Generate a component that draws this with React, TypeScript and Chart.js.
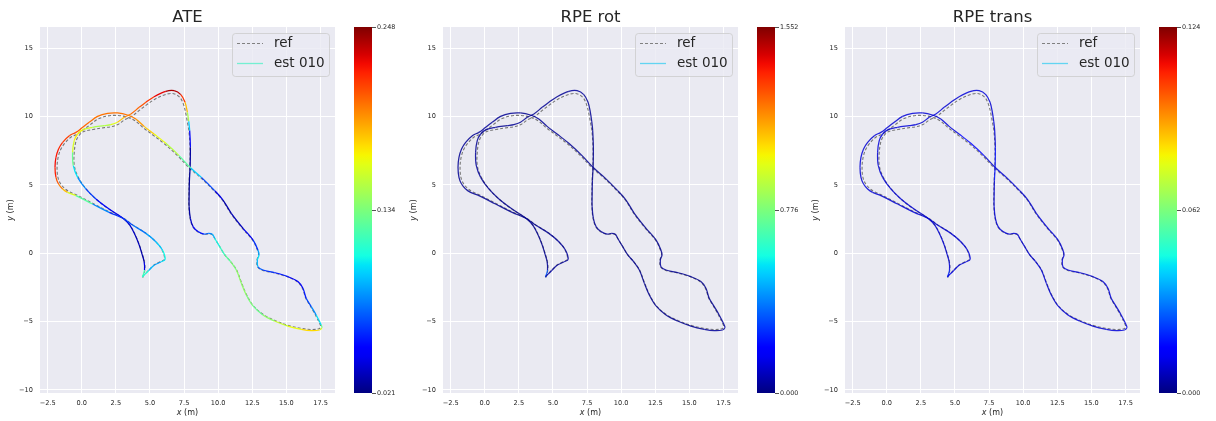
import React, { useEffect, useRef } from 'react';
import { Chart, registerables } from 'chart.js';
Chart.register(...registerables);

// ---------- data ----------
const estX = [4.45, 4.60, 4.57, 4.40, 4.21, 3.91, 3.52, 3.00, 2.01, 1.04,
  0.30, -0.30, -0.62, -0.67, -0.55, -0.30, 0.10, 0.79, 1.65, 2.13,
  2.62, 3.11, 3.60, 4.21, 4.70, 5.30, 6.16, 6.77, 7.26, 7.57,
  7.74, 7.84, 7.91, 7.96, 7.94, 7.89, 7.87, 7.87, 7.96, 8.16,
  8.52, 8.96, 9.30, 9.57, 9.74, 10.11, 10.48, 10.91, 11.33, 11.70,
  12.06, 12.55, 13.28, 14.13, 15.11, 16.09, 16.82, 17.43, 17.60, 17.55,
  17.18, 16.82, 16.45, 16.21, 15.84, 15.11, 14.13, 13.28, 12.91, 12.87,
  12.99, 12.91, 12.55, 11.82, 10.96, 10.35, 9.74, 8.77, 7.99, 7.13,
  6.16, 5.30, 4.57, 3.96, 3.35, 2.62, 1.89, 1.16, 0.55, 0.02,
  -0.43, -0.91, -1.40, -1.70, -1.89, -1.96, -1.89, -1.70, -1.40, -1.04,
  -0.43, 0.79, 2.01, 3.11, 3.72, 4.70, 5.43, 5.91, 6.11, 5.79,
  5.30, 4.89, 4.45];
const estY = [-1.75, -1.22, -0.61, 0.00, 0.61, 1.34, 2.07, 2.59, 3.24, 3.98,
  4.71, 5.56, 6.41, 7.39, 8.24, 8.73, 9.05, 9.22, 9.34, 9.41,
  9.59, 9.95, 10.20, 10.68, 11.05, 11.46, 11.85, 11.90, 11.61, 11.05,
  10.32, 9.65, 8.98, 7.76, 6.29, 5.32, 4.30, 3.41, 2.56, 1.95,
  1.59, 1.41, 1.46, 1.39, 1.10, 0.49, -0.12, -0.61, -1.22, -2.20,
  -3.05, -3.85, -4.51, -4.95, -5.32, -5.56, -5.66, -5.61, -5.44, -5.24,
  -4.51, -3.90, -3.29, -2.56, -2.07, -1.71, -1.41, -1.22, -0.98, -0.49,
  -0.12, 0.24, 0.98, 1.83, 2.93, 3.90, 4.59, 5.56, 6.24, 7.15,
  8.05, 8.73, 9.29, 9.83, 10.12, 10.27, 10.24, 10.02, 9.59, 9.18,
  8.85, 8.61, 8.12, 7.63, 7.02, 6.29, 5.56, 5.07, 4.71, 4.46,
  4.22, 3.61, 3.00, 2.51, 2.07, 1.46, 0.85, 0.24, -0.44, -0.63,
  -0.88, -1.27, -1.71];
const refX = [4.47, 4.62, 4.59, 4.42, 4.23, 3.93, 3.54, 3.02, 2.04, 1.08,
  0.35, -0.24, -0.54, -0.55, -0.42, -0.18, 0.16, 0.82, 1.66, 2.15,
  2.66, 3.16, 3.66, 4.27, 4.75, 5.33, 6.16, 6.74, 7.18, 7.45,
  7.62, 7.74, 7.85, 7.93, 7.92, 7.87, 7.85, 7.85, 7.94, 8.15,
  8.52, 8.96, 9.30, 9.58, 9.76, 10.13, 10.51, 10.94, 11.36, 11.73,
  12.09, 12.58, 13.30, 14.14, 15.11, 16.08, 16.80, 17.38, 17.52, 17.47,
  17.12, 16.78, 16.42, 16.18, 15.82, 15.10, 14.12, 13.27, 12.89, 12.84,
  12.96, 12.88, 12.52, 11.79, 10.93, 10.32, 9.71, 8.73, 7.94, 7.07,
  6.10, 5.24, 4.52, 3.92, 3.32, 2.61, 1.90, 1.20, 0.63, 0.12,
  -0.33, -0.80, -1.27, -1.56, -1.74, -1.81, -1.75, -1.57, -1.29, -0.95,
  -0.37, 0.82, 2.03, 3.12, 3.73, 4.70, 5.42, 5.89, 6.06, 5.76,
  5.28, 4.88, 4.45];
const refY = [-1.78, -1.22, -0.61, 0.00, 0.60, 1.33, 2.05, 2.56, 3.20, 3.94,
  4.68, 5.54, 6.40, 7.38, 8.20, 8.64, 8.92, 9.06, 9.20, 9.26,
  9.43, 9.78, 10.02, 10.50, 10.86, 11.26, 11.63, 11.68, 11.42, 10.92,
  10.26, 9.62, 8.97, 7.76, 6.29, 5.32, 4.30, 3.41, 2.55, 1.93,
  1.56, 1.38, 1.42, 1.35, 1.07, 0.46, -0.15, -0.64, -1.24, -2.21,
  -3.05, -3.84, -4.48, -4.91, -5.27, -5.49, -5.57, -5.52, -5.38, -5.21,
  -4.50, -3.90, -3.29, -2.58, -2.10, -1.74, -1.44, -1.25, -1.00, -0.50,
  -0.12, 0.23, 0.96, 1.81, 2.91, 3.88, 4.56, 5.52, 6.19, 7.09,
  7.98, 8.64, 9.18, 9.69, 9.96, 10.09, 10.05, 9.83, 9.42, 9.04,
  8.73, 8.49, 8.02, 7.56, 6.98, 6.28, 5.58, 5.12, 4.78, 4.53,
  4.27, 3.65, 3.03, 2.53, 2.08, 1.47, 0.86, 0.24, -0.44, -0.61,
  -0.87, -1.26, -1.70];

const ateErr = [0.19, 0.05, 0.03, 0.03, 0.03, 0.035, 0.035, 0.04, 0.045, 0.055,
  0.07, 0.09, 0.11, 0.15, 0.17, 0.17, 0.165, 0.15, 0.145, 0.155,
  0.17, 0.19, 0.20, 0.205, 0.21, 0.22, 0.235, 0.245, 0.23, 0.20,
  0.165, 0.13, 0.06, 0.03, 0.025, 0.025, 0.025, 0.025, 0.03, 0.04,
  0.05, 0.06, 0.08, 0.08, 0.10, 0.11, 0.12, 0.13, 0.14, 0.14,
  0.14, 0.13, 0.13, 0.15, 0.16, 0.17, 0.18, 0.17, 0.15, 0.11,
  0.09, 0.07, 0.06, 0.05, 0.04, 0.05, 0.06, 0.06, 0.08, 0.10,
  0.10, 0.07, 0.05, 0.035, 0.03, 0.03, 0.05, 0.08, 0.11, 0.14,
  0.16, 0.17, 0.185, 0.195, 0.20, 0.20, 0.20, 0.20, 0.20, 0.205,
  0.21, 0.21, 0.215, 0.22, 0.225, 0.225, 0.215, 0.20, 0.195, 0.17,
  0.15, 0.10, 0.06, 0.06, 0.07, 0.08, 0.09, 0.10, 0.11, 0.09,
  0.08, 0.10, 0.12];
const rpeRotErr = [0.62, 0.04, 0.02, 0.03, 0.02, 0.02, 0.03, 0.02, 0.02, 0.03,
  0.02, 0.03, 0.04, 0.03, 0.02, 0.03, 0.04, 0.02, 0.02, 0.03,
  0.02, 0.03, 0.02, 0.02, 0.03, 0.02, 0.03, 0.04, 0.03, 0.02,
  0.03, 0.02, 0.02, 0.03, 0.02, 0.02, 0.03, 0.02, 0.04, 0.03,
  0.03, 0.04, 0.03, 0.02, 0.03, 0.02, 0.02, 0.03, 0.02, 0.02,
  0.03, 0.02, 0.02, 0.03, 0.02, 0.03, 0.04, 0.03, 0.05, 0.04,
  0.03, 0.02, 0.03, 0.02, 0.02, 0.03, 0.02, 0.03, 0.04, 0.03,
  0.02, 0.03, 0.02, 0.02, 0.03, 0.02, 0.02, 0.03, 0.02, 0.03,
  0.02, 0.03, 0.02, 0.03, 0.02, 0.02, 0.03, 0.02, 0.03, 0.04,
  0.03, 0.02, 0.03, 0.02, 0.03, 0.02, 0.03, 0.02, 0.02, 0.03,
  0.02, 0.03, 0.02, 0.03, 0.02, 0.03, 0.04, 0.03, 0.05, 0.04,
  0.03, 0.04, 0.08];
const rpeTransErr = [0.030, 0.010, 0.009, 0.008, 0.009, 0.010, 0.009, 0.008, 0.009, 0.010,
  0.009, 0.010, 0.008, 0.009, 0.010, 0.009, 0.008, 0.009, 0.010, 0.009,
  0.008, 0.009, 0.010, 0.009, 0.008, 0.009, 0.010, 0.009, 0.010, 0.009,
  0.008, 0.009, 0.010, 0.009, 0.025, 0.009, 0.008, 0.009, 0.010, 0.009,
  0.010, 0.009, 0.008, 0.009, 0.010, 0.009, 0.008, 0.009, 0.010, 0.009,
  0.008, 0.009, 0.010, 0.009, 0.008, 0.009, 0.010, 0.009, 0.011, 0.010,
  0.009, 0.008, 0.009, 0.010, 0.009, 0.008, 0.009, 0.010, 0.009, 0.010,
  0.009, 0.008, 0.009, 0.010, 0.009, 0.008, 0.009, 0.010, 0.009, 0.008,
  0.022, 0.009, 0.010, 0.009, 0.008, 0.009, 0.010, 0.009, 0.008, 0.009,
  0.010, 0.009, 0.008, 0.009, 0.010, 0.009, 0.008, 0.009, 0.010, 0.009,
  0.008, 0.009, 0.010, 0.009, 0.008, 0.009, 0.010, 0.009, 0.011, 0.010,
  0.009, 0.010, 0.012];

const panelTitles = ['ATE', 'RPE rot', 'RPE trans'];
const panelErrors = [ateErr, rpeRotErr, rpeTransErr];
const colorbarTicks = [[0.021, 0.134, 0.248], [0.0, 0.776, 1.552], [0.0, 0.062, 0.124]];
const colorbarTickLabels = [['0.021', '0.134', '0.248'], ['0.000', '0.776', '1.552'], ['0.000', '0.062', '0.124']];
const legendLabels = ['ref', 'est 010'];
const legendEstColors = ['#74efd2', '#62d4f2', '#62d4f2'];
const xTicks = [-2.5, 0, 2.5, 5, 7.5, 10, 12.5, 15, 17.5];
const yTicks = [-10, -5, 0, 5, 10, 15];

// ---------- helpers ----------
const FONT = '"DejaVu Sans", sans-serif';
const TEXT = '#262626';
const X_MIN = -3.06, X_MAX = 18.56, Y_MIN = -10.22, Y_MAX = 16.56;
const PANEL_OFFSETS = [0, 403, 805];

function clamp01(v: number) { return Math.max(0, Math.min(1, v)); }
function jet(t: number, alpha = 1): string {
  t = clamp01(t);
  let r = 0, g = 0, b = 0;
  if (t < 0.35) r = 0; else if (t < 0.66) r = (t - 0.35) / 0.31; else if (t < 0.89) r = 1; else r = 1 - 0.5 * (t - 0.89) / 0.11;
  if (t < 0.125) g = 0; else if (t < 0.375) g = (t - 0.125) / 0.25; else if (t < 0.64) g = 1; else if (t < 0.91) g = 1 - (t - 0.64) / 0.27; else g = 0;
  if (t < 0.11) b = 0.5 + 0.5 * t / 0.11; else if (t < 0.34) b = 1; else if (t < 0.65) b = 1 - (t - 0.34) / 0.31; else b = 0;
  return `rgba(${Math.round(r * 255)},${Math.round(g * 255)},${Math.round(b * 255)},${alpha})`;
}
const minus = (s: string) => s.replace('-', '\u2212');

function drawMixed(ctx: CanvasRenderingContext2D, parts: [string, string][], cx: number, cy: number) {
  let total = 0;
  for (const [t, f] of parts) { ctx.font = f; total += ctx.measureText(t).width; }
  let x = cx - total / 2;
  ctx.textAlign = 'left';
  ctx.textBaseline = 'middle';
  for (const [t, f] of parts) { ctx.font = f; ctx.fillText(t, x, cy); x += ctx.measureText(t).width; }
}

const bgPlugin = {
  id: 'bgPlugin',
  beforeDraw(chart: any) {
    const { ctx, chartArea: ca } = chart;
    ctx.save();
    ctx.fillStyle = '#ffffff';
    ctx.fillRect(0, 0, chart.width, chart.height);
    ctx.fillStyle = '#eaeaf2';
    ctx.fillRect(ca.left, ca.top, ca.right - ca.left, ca.bottom - ca.top);
    ctx.restore();
  },
};

const axisLabelPlugin = {
  id: 'axisLabelPlugin',
  afterDraw(chart: any) {
    const { ctx, chartArea: ca } = chart;
    ctx.save();
    ctx.fillStyle = TEXT;
    drawMixed(ctx, [['x', `italic 8px ${FONT}`], [' (m)', `8px ${FONT}`]], (ca.left + ca.right) / 2, 413);
    ctx.translate(11, (ca.top + ca.bottom) / 2);
    ctx.rotate(-Math.PI / 2);
    drawMixed(ctx, [['y', `italic 8px ${FONT}`], [' (m)', `8px ${FONT}`]], 0, 0);
    ctx.restore();
  },
};

function makeLegendPlugin(estColor: string) {
  return {
    id: 'legendBoxPlugin',
    afterDatasetsDraw(chart: any) {
      const { ctx, chartArea: ca } = chart;
      const w = 97, h = 43;
      const left = ca.right - 6 - w, top = ca.top + 6;
      ctx.save();
      ctx.beginPath();
      if ((ctx as any).roundRect) (ctx as any).roundRect(left + 0.5, top + 0.5, w, h, 3);
      else ctx.rect(left + 0.5, top + 0.5, w, h);
      ctx.fillStyle = 'rgba(234,234,242,0.8)';
      ctx.fill();
      ctx.strokeStyle = 'rgba(204,204,204,0.8)';
      ctx.lineWidth = 1;
      ctx.stroke();
      const rows = [top + 10.5, top + 30.5];
      ctx.beginPath();
      ctx.setLineDash([3, 2]);
      ctx.strokeStyle = '#808080';
      ctx.lineWidth = 1;
      ctx.moveTo(left + 5, rows[0]);
      ctx.lineTo(left + 31, rows[0]);
      ctx.stroke();
      ctx.setLineDash([]);
      ctx.beginPath();
      ctx.strokeStyle = estColor;
      ctx.lineWidth = 1.3;
      ctx.moveTo(left + 5, rows[1]);
      ctx.lineTo(left + 31, rows[1]);
      ctx.stroke();
      ctx.fillStyle = TEXT;
      ctx.font = `13.5px ${FONT}`;
      ctx.textAlign = 'left';
      ctx.textBaseline = 'middle';
      ctx.fillText(legendLabels[0], left + 42, rows[0]);
      ctx.fillText(legendLabels[1], left + 42, rows[1]);
      ctx.restore();
    },
  };
}

function Panel({ index }: { index: number }) {
  const mainRef = useRef<HTMLCanvasElement>(null);
  const cbRef = useRef<HTMLCanvasElement>(null);
  useEffect(() => {
    const err = panelErrors[index];
    const ticks = colorbarTicks[index];
    const lo = ticks[0], hi = ticks[2];
    const norm = (v: number) => (v - lo) / (hi - lo);
    const estAlpha = index === 0 ? 1 : 0.85;

    const main = new Chart(mainRef.current as HTMLCanvasElement, {
      type: 'scatter',
      data: {
        datasets: [
          {
            label: legendLabels[1],
            data: estX.map((x, i) => ({ x, y: estY[i] })),
            showLine: true,
            pointRadius: 0,
            borderWidth: 1.25,
            tension: 0.35,
            borderColor: jet(0.1),
            segment: {
              borderColor: (c: any) => jet(norm((err[c.p0DataIndex] + err[c.p1DataIndex]) / 2), estAlpha),
            },
          } as any,
          {
            label: legendLabels[0],
            data: refX.map((x, i) => ({ x, y: refY[i] })),
            showLine: true,
            pointRadius: 0,
            borderWidth: 1.1,
            borderDash: [3, 2],
            borderColor: '#777777',
            tension: 0.35,
          } as any,
        ],
      },
      options: {
        responsive: false,
        animation: false,
        devicePixelRatio: 1,
        events: [],
        layout: { padding: { left: 0, right: 10, top: 0, bottom: 0 } },
        plugins: {
          legend: { display: false },
          tooltip: { enabled: false },
          title: {
            display: true,
            text: panelTitles[index],
            fullSize: false,
            color: TEXT,
            font: { family: FONT, size: 16.5, weight: 'normal', lineHeight: 1 },
            padding: { top: 9.5, bottom: 1 },
          },
        },
        scales: {
          x: {
            type: 'linear',
            min: X_MIN,
            max: X_MAX,
            afterFit: (s: any) => { s.height = 28; },
            afterBuildTicks: (s: any) => { s.ticks = xTicks.map((v) => ({ value: v })); },
            ticks: {
              callback: (v: any) => minus(Number(v).toFixed(1)),
              font: { family: FONT, size: 6.6 },
              color: TEXT,
              padding: 6,
              maxRotation: 0,
              autoSkip: false,
            },
            grid: { color: '#ffffff', lineWidth: 1, drawTicks: false },
            border: { display: false },
          },
          y: {
            type: 'linear',
            min: Y_MIN,
            max: Y_MAX,
            afterFit: (s: any) => { s.width = 40; },
            afterBuildTicks: (s: any) => { s.ticks = yTicks.map((v) => ({ value: v })); },
            ticks: {
              callback: (v: any) => minus(String(v)),
              font: { family: FONT, size: 6.6 },
              color: TEXT,
              padding: 7,
              autoSkip: false,
            },
            grid: { color: '#ffffff', lineWidth: 1, drawTicks: false },
            border: { display: false },
          },
        },
      } as any,
      plugins: [bgPlugin, axisLabelPlugin, makeLegendPlugin(legendEstColors[index])],
    });

    const cb = new Chart(cbRef.current as HTMLCanvasElement, {
      type: 'bar',
      data: {
        labels: [''],
        datasets: [
          {
            data: [[lo, hi]] as any,
            barPercentage: 1,
            categoryPercentage: 1,
            borderWidth: 0,
            backgroundColor: (c: any) => {
              const ca = c.chart.chartArea;
              if (!ca) return jet(0.5);
              const g = c.chart.ctx.createLinearGradient(0, ca.bottom, 0, ca.top);
              for (let k = 0; k <= 40; k++) g.addColorStop(k / 40, jet(k / 40));
              return g;
            },
          },
        ],
      },
      options: {
        responsive: false,
        animation: false,
        devicePixelRatio: 1,
        events: [],
        layout: { padding: { left: 9, right: 0, top: 27, bottom: 28 } },
        plugins: { legend: { display: false }, tooltip: { enabled: false }, title: { display: false } },
        scales: {
          x: { display: false },
          y: {
            position: 'right',
            min: lo,
            max: hi,
            afterFit: (s: any) => { s.width = 28; },
            afterBuildTicks: (s: any) => { s.ticks = ticks.map((v) => ({ value: v })); },
            ticks: {
              callback: (_v: any, i: number) => colorbarTickLabels[index][i],
              font: { family: FONT, size: 6.4 },
              color: TEXT,
              padding: 1,
              autoSkip: false,
            },
            grid: { drawOnChartArea: false, drawTicks: true, tickLength: 4, color: TEXT, lineWidth: 0.8 },
            border: { display: false },
          },
        },
      } as any,
    });

    return () => { main.destroy(); cb.destroy(); };
  }, [index]);

  const off = PANEL_OFFSETS[index];
  return (
    <>
      <canvas ref={mainRef} width={345} height={421}
        style={{ position: 'absolute', left: off, top: 0, width: 345, height: 421 }} />
      <canvas ref={cbRef} width={55} height={421}
        style={{ position: 'absolute', left: off + 345, top: 0, width: 55, height: 421 }} />
    </>
  );
}

export default function App() {
  return (
    <div style={{ position: 'absolute', left: 0, top: 0, width: 1216, height: 421, background: '#ffffff', overflow: 'hidden' }}>
      {[0, 1, 2].map((i) => <Panel key={i} index={i} />)}
    </div>
  );
}
